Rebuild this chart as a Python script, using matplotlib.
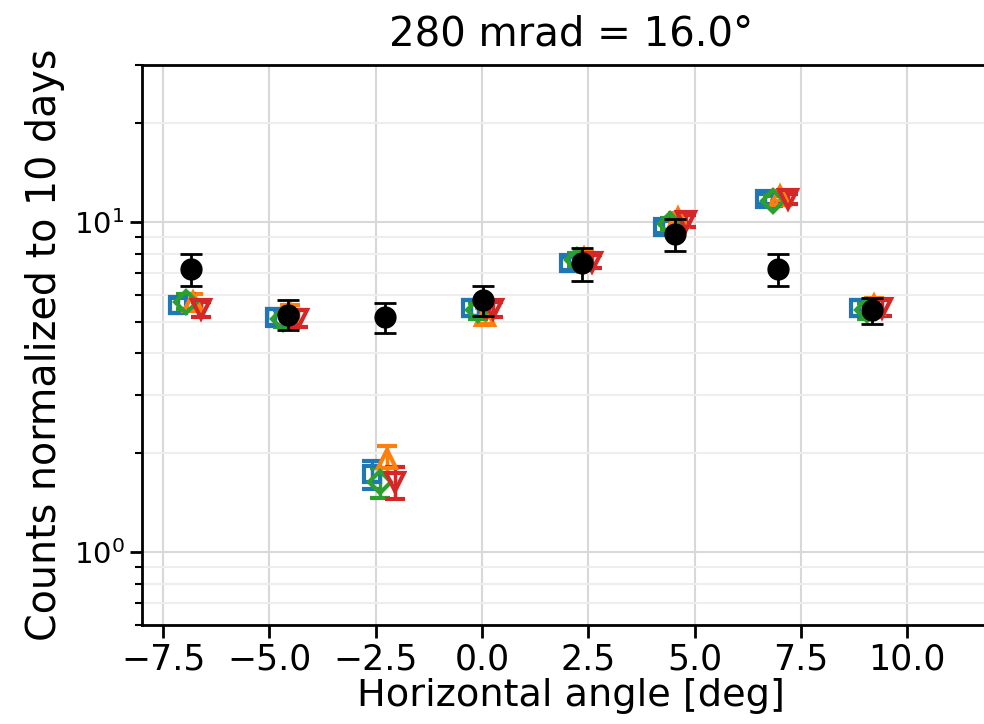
import matplotlib
matplotlib.use("Agg")
import matplotlib.pyplot as plt
import numpy as np

# group (data) angle positions
x_data = [-6.85, -4.56, -2.28, 0.03, 2.35, 4.55, 6.96, 9.18]
y_data = [7.2, 5.25, 5.15, 5.8, 7.5, 9.2, 7.2, 5.4]
e_data = [0.8, 0.55, 0.55, 0.6, 0.85, 1.0, 0.8, 0.5]

# simulation series
y_sq = [5.6, 5.15, 1.72, 5.5, 7.5, 9.7, 11.8, 5.5]
e_sq = [0.3, 0.3, 0.17, 0.3, 0.35, 0.4, 0.4, 0.3]
y_tu = [5.75, 5.3, 1.92, 5.2, 7.8, 10.3, 12.0, 5.6]
e_tu = [0.3, 0.3, 0.18, 0.3, 0.35, 0.4, 0.4, 0.3]
y_di = [5.75, 5.1, 1.63, 5.4, 7.7, 9.9, 11.6, 5.4]
e_di = [0.3, 0.3, 0.17, 0.3, 0.35, 0.4, 0.4, 0.3]
y_td = [5.45, 5.1, 1.63, 5.45, 7.6, 10.1, 11.8, 5.5]
e_td = [0.3, 0.3, 0.18, 0.3, 0.35, 0.4, 0.4, 0.3]

x_ticks = [-7.5, -5.0, -2.5, 0.0, 2.5, 5.0, 7.5, 10.0]

fig = plt.figure(figsize=(9.84, 7.24), dpi=100)
ax = fig.add_axes([0.1443, 0.1367, 0.8725, 0.7735])

xd = np.array(x_data)
series = [
    (xd - 0.30, y_sq, e_sq, 's', 'C0', 12),
    (xd + 0.05, y_tu, e_tu, '^', 'C1', 13),
    (xd - 0.12, y_di, e_di, 'D', 'C2', 11),
    (xd + 0.24, y_td, e_td, 'v', 'C3', 13),
]
for xs, ys, es, m, c, ms in series:
    ax.errorbar(xs, ys, yerr=es, fmt=m, color=c, mfc='none', mec=c, mew=3,
                ms=ms, elinewidth=2.5, capsize=7.5, capthick=2.5, zorder=3)

ax.errorbar(x_data, y_data, yerr=e_data, fmt='o', color='black', ms=15,
            elinewidth=2, capsize=8, capthick=2, zorder=5)

ax.set_yscale('log')
ax.set_xlim(-8.0, 12.2)
ax.set_ylim(0.6, 30)
ax.set_xticks(x_ticks)
ax.set_xticklabels([f"{t:.1f}".replace('-', '\u2212') for t in x_ticks])

ax.grid(True, which='major', color='#d8d8d8', linewidth=1.5)
ax.grid(True, which='minor', axis='y', color='#eeeeee', linewidth=1.5)
ax.set_axisbelow(True)

for s in ax.spines.values():
    s.set_linewidth(2)
ax.spines['right'].set_visible(False)
ax.tick_params(which='major', length=9, width=2)
ax.tick_params(axis='x', labelsize=25)
ax.tick_params(axis='y', labelsize=21)
ax.tick_params(which='minor', length=5, width=1.5)

ax.set_xlabel('Horizontal angle [deg]', fontsize=27.5, labelpad=1)
ax.set_ylabel('Counts normalized to 10 days', fontsize=28.5, labelpad=6)
ax.set_title('280 mrad = 16.0\u00b0', fontsize=29, pad=14)

fig.savefig('out.png', dpi=100)
